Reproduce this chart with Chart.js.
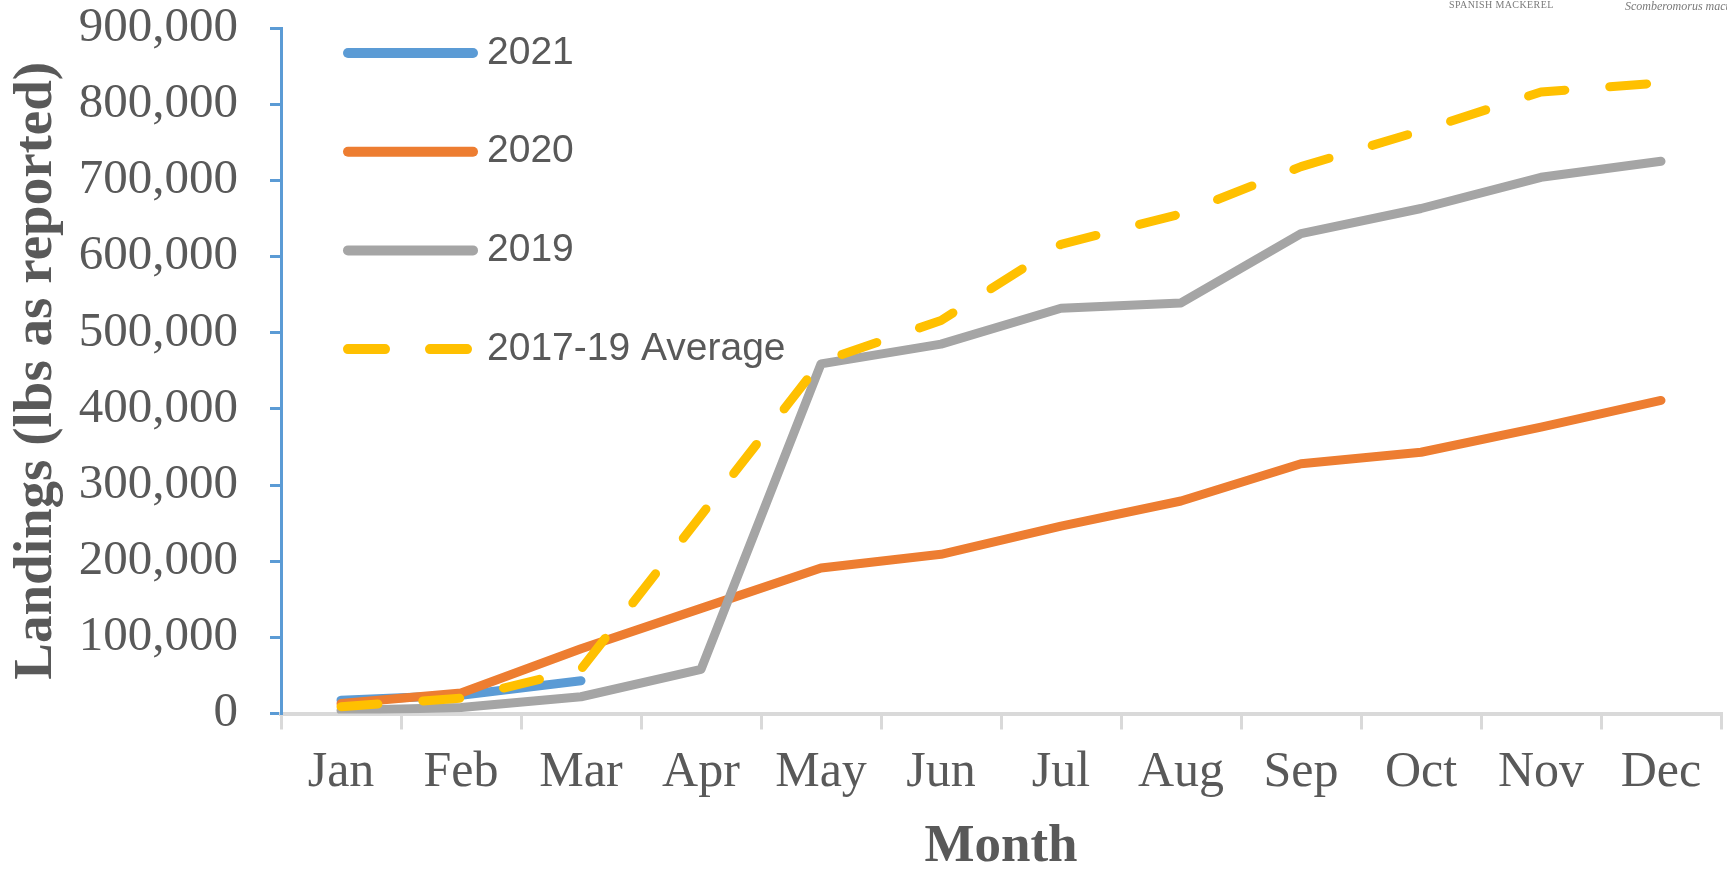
<!DOCTYPE html>
<html>
<head>
<meta charset="utf-8">
<script src="https://cdn.jsdelivr.net/npm/chart.js@4"></script>
<style>
  html, body { margin: 0; padding: 0; background: #fff; overflow: hidden; }
  #wrap { position: relative; width: 1727px; height: 869px; }
  .stamp { position: absolute; top: -1px; color: #7a7a7a; white-space: nowrap; font-family: "Liberation Serif", serif; }
  #common { left: 1449px; font-size: 10px; letter-spacing: 0.4px; }
  #latin { left: 1625px; font-size: 12px; font-style: italic; }
</style>
</head>
<body>
<div id="wrap">
  <canvas id="chart" width="1727" height="869"></canvas>
  <div class="stamp" id="common">SPANISH MACKEREL</div>
  <div class="stamp" id="latin">Scomberomorus maculatus</div>
</div>
<script>
(() => {
  //─── DATA ────────────────────────────────────────────────────────────────────
  const months   = ['Jan','Feb','Mar','Apr','May','Jun','Jul','Aug','Sep','Oct','Nov','Dec'];
  const y2021    = [17500, 24000, 43000];
  const y2020    = [13000, 27000, 85000, 138000, 191000, 209000, 246000, 279000, 328000, 343000, 376000, 411000];
  const y2019    = [4000, 8000, 22000, 58000, 459000, 485000, 532000, 539000, 630000, 663000, 704000, 725000];
  const avg1719  = [9000, 20000, 58000, 260000, 462000, 516000, 616000, 656000, 718000, 765000, 816000, 828000];
  const seriesLabels = ['2021', '2020', '2019', '2017-19 Average'];
  const yMax = 900000, yStep = 100000;

  //─── STYLE ───────────────────────────────────────────────────────────────────
  const textGrey = '#595959';
  const serif = '"Liberation Serif", "Times New Roman", serif';
  const sans  = '"Liberation Sans", Arial, sans-serif';
  const dash  = [37, 45];

  const line = (label, data, color, order, extra) => Object.assign({
    label, data, order,
    borderColor: color, backgroundColor: color,
    borderWidth: 9, borderCapStyle: 'round', borderJoinStyle: 'round',
    pointRadius: 0, tension: 0, fill: false
  }, extra || {});

  // legend drawn inside the plot, top-left, like the Excel original
  const insideLegend = {
    id: 'insideLegend',
    afterDatasetsDraw(chart) {
      const ctx = chart.ctx;
      ctx.save();
      chart.data.datasets.forEach((ds, i) => {
        const y = 53 + i * 98.7;
        ctx.beginPath();
        ctx.lineWidth = 10;
        ctx.lineCap = 'round';
        ctx.strokeStyle = ds.borderColor;
        ctx.setLineDash(ds.borderDash || []);
        ctx.moveTo(348, y);
        ctx.lineTo(473, y);
        ctx.stroke();
        ctx.setLineDash([]);
        ctx.font = '39px ' + sans;
        ctx.fillStyle = textGrey;
        ctx.textBaseline = 'middle';
        ctx.textAlign = 'left';
        ctx.fillText(ds.label, 487, y);
      });
      ctx.restore();
    }
  };

  new Chart(document.getElementById('chart'), {
    type: 'line',
    data: {
      labels: months,
      datasets: [
        line(seriesLabels[0], y2021, '#5B9BD5', 4),
        line(seriesLabels[1], y2020, '#ED7D31', 3),
        line(seriesLabels[2], y2019, '#A5A5A5', 2),
        line(seriesLabels[3], avg1719, '#FFC000', 1, { borderDash: dash })
      ]
    },
    options: {
      responsive: false,
      animation: false,
      devicePixelRatio: 1,
      layout: { padding: { top: 0, right: 6, left: 0, bottom: 0 } },
      plugins: { legend: { display: false }, tooltip: { enabled: false } },
      scales: {
        x: {
          offset: true,
          grid: { offset: true, drawOnChartArea: false, drawTicks: true, tickLength: 16, color: '#D9D9D9', lineWidth: 3 },
          border: { display: true, color: '#D9D9D9', width: 4 },
          ticks: { color: textGrey, font: { family: serif, size: 50, lineHeight: 1.2 }, padding: 13, maxRotation: 0, autoSkip: false },
          title: { display: true, text: 'Month', color: textGrey, font: { family: serif, size: 53, weight: 'bold', lineHeight: 0.8 }, padding: { top: 0, bottom: 0 } },
          afterFit: s => { s.height = 155.5; }
        },
        y: {
          min: 0, max: yMax,
          grid: { drawOnChartArea: false, drawTicks: true, tickLength: 11, color: '#5B9BD5', lineWidth: 3 },
          border: { display: true, color: '#5B9BD5', width: 3 },
          ticks: { stepSize: yStep, color: textGrey, padding: 32, font: { family: serif, size: 49, lineHeight: 1 },
                   callback: v => v.toLocaleString('en-US') },
          title: { display: true, text: 'Landings (lbs as reported)', color: textGrey, font: { family: serif, size: 55, weight: 'bold', lineHeight: 1 }, padding: { top: 9, bottom: 0 } },
          afterFit: s => { s.width = 281; s.paddingTop = 28; s.paddingBottom = 0; }
        }
      }
    },
    plugins: [insideLegend]
  });
})();
</script>
</body>
</html>
